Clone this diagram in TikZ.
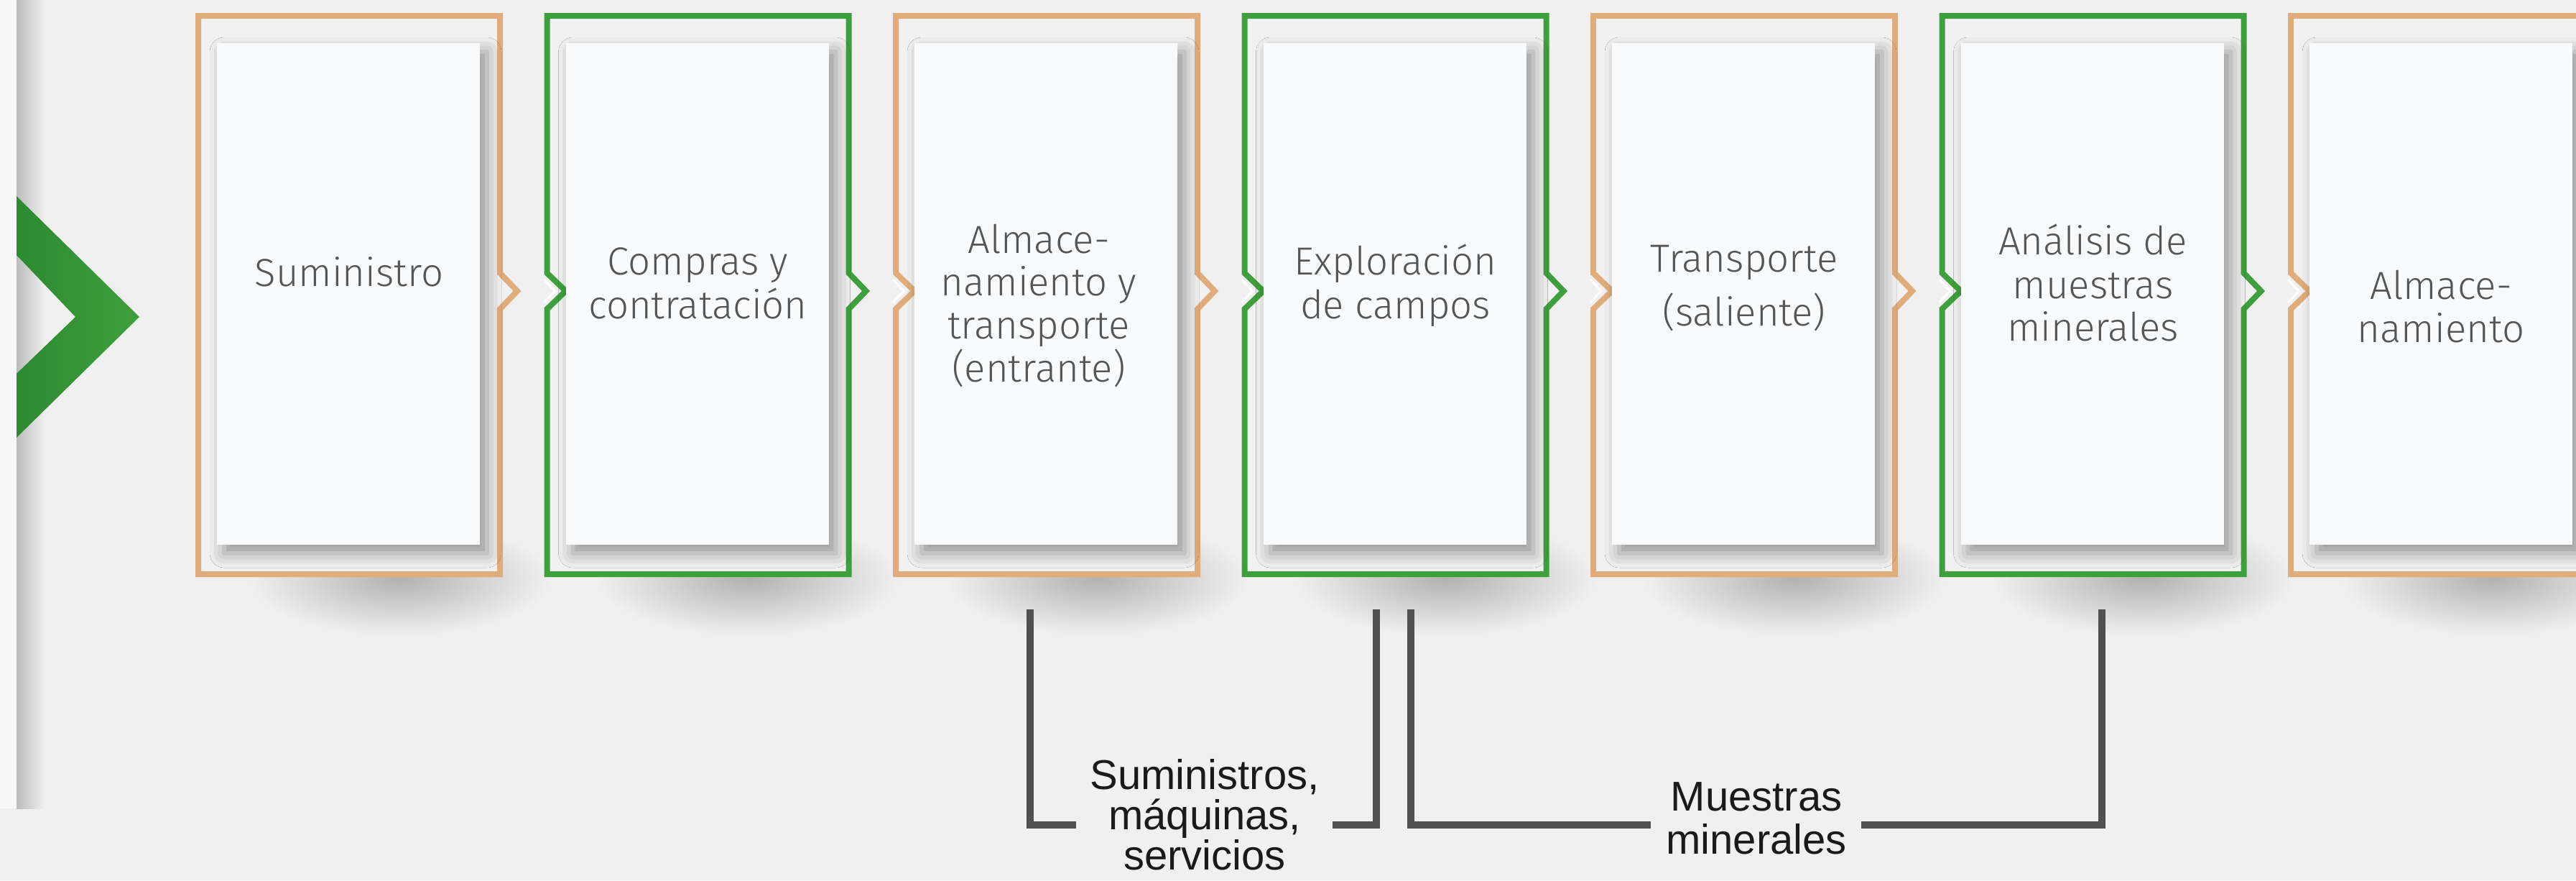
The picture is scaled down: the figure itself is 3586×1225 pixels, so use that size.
\documentclass[tikz,border=0pt]{standalone}
\usepackage{fontspec}
\setmainfont{Liberation Sans}
\newfontfamily\boxfont{Fira Sans Light}
\usetikzlibrary{shadows.blur}
\definecolor{bg}{RGB}{240,240,240}
\definecolor{orng}{RGB}{224,172,122}
\definecolor{grn}{RGB}{62,160,60}
\definecolor{grnd}{RGB}{44,138,48}
\definecolor{panelc}{RGB}{248,250,252}
\definecolor{framein}{RGB}{241,241,241}
\definecolor{txt}{RGB}{85,85,85}
\definecolor{lbl}{RGB}{26,26,26}
\definecolor{brk}{RGB}{80,80,80}
\begin{document}
\begin{tikzpicture}[x=0.1mm,y=-0.1mm,
  frame/.style={line width=0.8mm, line join=miter, fill=framein},
  panel/.style={fill=panelc, minimum width=36.6mm, minimum height=69.8mm, inner sep=0pt, draw=none,
    blur shadow={shadow xshift=1.0mm, shadow yshift=-1.2mm, shadow blur radius=2mm, shadow opacity=38}},
  undershadow/.style={inner color=black!26!bg, outer color=bg},
  boxline/.style={anchor=base, inner sep=0pt, text=txt, font=\boxfont\fontsize{15.5}{18}\selectfont},
  lblline/.style={anchor=base, inner sep=0pt, text=lbl, font=\fontsize{16.5}{19}\selectfont},
  bracket/.style={draw=brk, line width=1mm},
  hilite/.style={draw=white, line width=0.3mm},
]
\useasboundingbox (0,0) rectangle (3586,1225);
\fill[bg] (0,0) rectangle (3586,1225);
% left strip and its shadow
\fill[white!55!bg] (0,0) rectangle (23,1125);
\shade[left color=black!22!bg, right color=bg] (23,0) rectangle (62,1125);
% big chevron
\shade[left color=grnd, right color=grn] (23,273) -- (194,441) -- (23,609) -- (23,520) -- (105,441) -- (23,355) -- cycle;

% box 1
\shade[undershadow] (556,805) ellipse [x radius=210, y radius=80];
\draw[frame, draw=orng] (276,22) -- (696,22) -- (696,380) -- (720,405) -- (696,430) -- (696,799) -- (276,799) -- cycle;
\node[panel] (p1) at (485,409) {};

% boxes 2-7
\foreach \L/\col [count=\i from 2] in {757.5/grn, 1243/orng, 1728.5/grn, 2214/orng, 2699.5/grn, 3185/orng} {
  \shade[undershadow] (\L+284,805) ellipse [x radius=210, y radius=80];
  \draw[frame, draw=\col] (\L+4,22) -- (\L+424,22) -- (\L+424,380) -- (\L+448,405) -- (\L+424,430)
     -- (\L+424,799) -- (\L+4,799) -- (\L+4,430) -- (\L+30,405) -- (\L+4,380) -- cycle;
  \draw[hilite] (\L+0,389) -- (\L+15,405) -- (\L+0,421);
  \node[panel] (p\i) at (\L+213,409) {};
}

% box texts
\node[boxline] (t1) at (486,398) {Suministro};
\node[boxline] (t2a) at (971.5,382) {Compras y};
\node[boxline] (t2b) at (971.5,443) {contratación};
\node[boxline] (t3a) at (1446,352) {Almace-};
\node[boxline] (t3b) at (1446,411) {namiento y};
\node[boxline] (t3c) at (1446,471) {transporte};
\node[boxline] (t3d) at (1446,531) {(entrante)};
\node[boxline] (t4a) at (1942.5,382) {Exploración};
\node[boxline] (t4b) at (1942.5,443) {de campos};
\node[boxline] (t5a) at (2428,378) {Transporte};
\node[boxline] (t5b) at (2428,453) {(saliente)};
\node[boxline] (t6a) at (2913.5,354) {Análisis de};
\node[boxline] (t6b) at (2913.5,415) {muestras};
\node[boxline] (t6c) at (2913.5,474) {minerales};
\node[boxline] (t7a) at (3398,416) {Almace-};
\node[boxline] (t7b) at (3398,476) {namiento};

% labels
\node[lblline] (l1a) at (1677,1098) {Suministros,};
\node[lblline] (l1b) at (1677,1154) {máquinas,};
\node[lblline] (l1c) at (1677,1210) {servicios};
\node[lblline] (l2a) at (2445,1128) {Muestras};
\node[lblline] (l2b) at (2445,1188) {minerales};

% brackets
\coordinate (b1a) at (1434,848);
\coordinate (b1b) at (1498,1148);
\coordinate (b1c) at (1855,1148);
\coordinate (b1d) at (1916,848);
\coordinate (b2a) at (1964,848);
\coordinate (b2b) at (2298,1148);
\coordinate (b2c) at (2591,1148);
\coordinate (b2d) at (2926,848);
\draw[bracket] (b1a) |- (b1b);
\draw[bracket] (b1c) -| (b1d);
\draw[bracket] (b2a) |- (b2b);
\draw[bracket] (b2c) -| (b2d);
\end{tikzpicture}
\end{document}
